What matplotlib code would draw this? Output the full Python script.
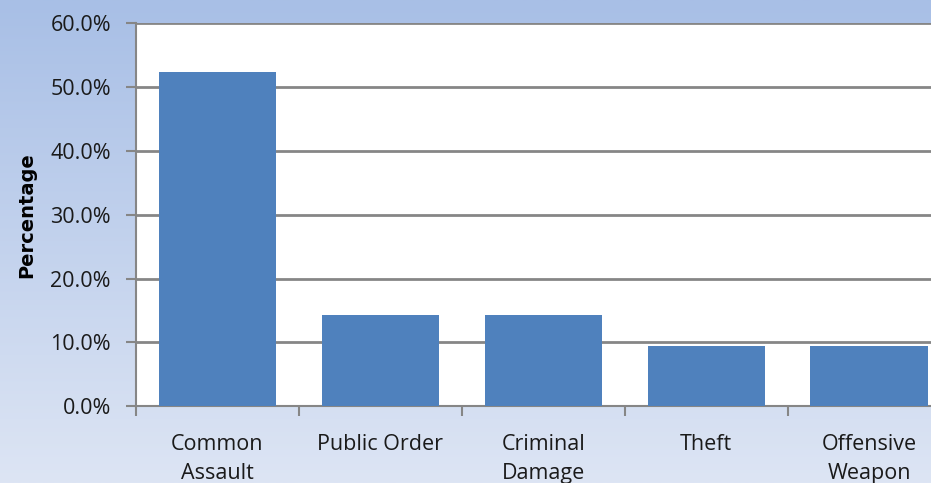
import numpy as np
import matplotlib
matplotlib.use("Agg")
import matplotlib.pyplot as plt
from matplotlib.ticker import FuncFormatter

# data
categories = ["Common\nAssault", "Public Order", "Criminal\nDamage", "Theft", "Offensive\nWeapon"]
values = [52.4, 14.3, 14.3, 9.5, 9.5]
yticks = [0, 10, 20, 30, 40, 50, 60]

fig = plt.figure(figsize=(9.31, 4.83), dpi=100)

# gradient background
bg = fig.add_axes([0, 0, 1, 1], zorder=-10)
top = np.array([168, 191, 230]) / 255
bottom = np.array([221, 229, 244]) / 255
t = np.linspace(0, 1, 256)[:, None]
grad = top * (1 - t) + bottom * t
bg.imshow(grad[:, None, :], aspect="auto", extent=[0, 1, 0, 1])
bg.axis("off")

ax = fig.add_axes([0.146, 0.159, 0.875, 0.793])
x = np.arange(len(categories))
ax.bar(x, values, width=0.72, color="#4F81BD", zorder=3)

ax.set_xlim(-0.5, len(categories) - 0.5)
ax.set_ylim(0, 60)
ax.set_yticks(yticks)
ax.yaxis.set_major_formatter(FuncFormatter(lambda v, p: f"{v:.1f}%"))
ax.grid(axis="y", color="#868686", linewidth=2, zorder=1)

ax.set_xticks(x)
ax.set_xticklabels(categories, fontsize=15.5, family="Open Sans", linespacing=1.5,
                   color="#1a1a1a", va="top")
ax.set_xticks(np.arange(len(categories) + 1) - 0.5, minor=True)
ax.tick_params(axis="x", which="major", length=0, pad=20)
ax.tick_params(axis="x", which="minor", length=7, width=1.5, color="#868686")
ax.tick_params(axis="y", length=7, width=1.5, color="#868686", pad=11, labelsize=15.5,
               labelcolor="#1a1a1a")
for lbl in ax.get_yticklabels():
    lbl.set_family("Open Sans")

for s in ["top", "right"]:
    ax.spines[s].set_visible(False)
for s in ["left", "bottom"]:
    ax.spines[s].set_color("#868686")
    ax.spines[s].set_linewidth(1.5)

ax.set_ylabel("Percentage", fontsize=14, fontweight="bold", labelpad=10)

fig.savefig("out.png", dpi=100)
